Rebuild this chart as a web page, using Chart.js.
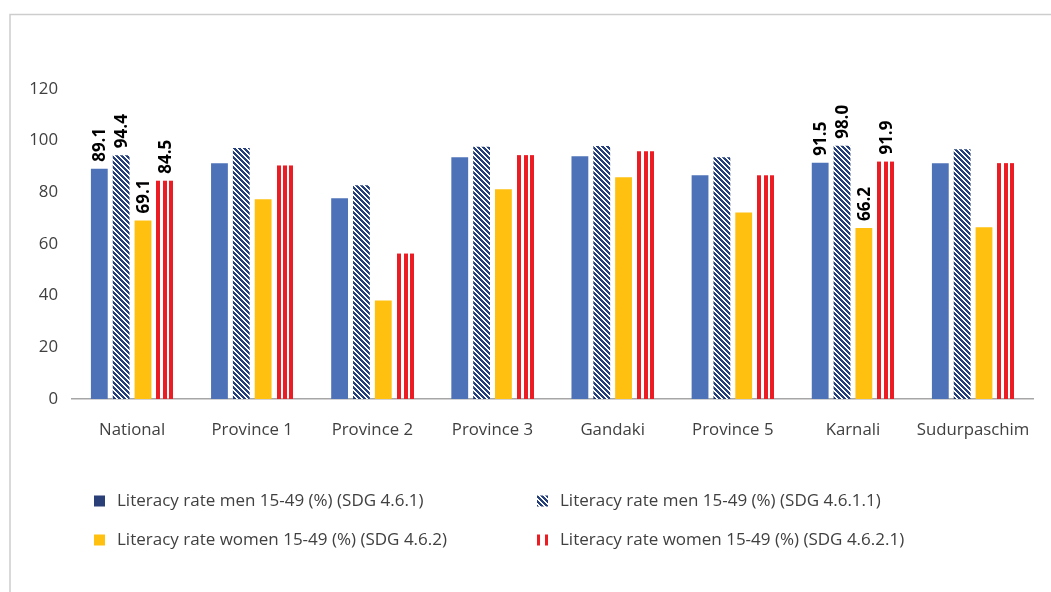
<!DOCTYPE html>
<html>
<head>
<meta charset="utf-8">
<title>Literacy rate by province</title>
<script src="https://cdn.jsdelivr.net/npm/chart.js@4/dist/chart.umd.min.js"></script>
<style>
  html, body { margin: 0; padding: 0; background: #ffffff; }
  #wrap { width: 1051px; height: 592px; position: relative; }
</style>
</head>
<body>
<div id="wrap"><canvas id="chart" width="1051" height="592"></canvas></div>
<script>
// Regions shown along the x axis
const categories = ['National', 'Province 1', 'Province 2', 'Province 3', 'Gandaki', 'Province 5', 'Karnali', 'Sudurpaschim'];

// Literacy rates (%) for each indicator
const menSdg461    = [89.1, 91.3, 77.7, 93.6, 94.0, 86.6, 91.5, 91.3];
const menSdg4611   = [94.4, 97.2, 82.7, 97.6, 97.9, 93.6, 98.0, 96.7];
const womenSdg462  = [69.1, 77.3, 38.1, 81.2, 85.8, 72.2, 66.2, 66.5];
const womenSdg4621 = [84.5, 90.4, 56.3, 94.4, 95.9, 86.6, 91.9, 91.3];

const seriesNames = [
  'Literacy rate men 15-49 (%) (SDG 4.6.1)',
  'Literacy rate men 15-49 (%) (SDG 4.6.1.1)',
  'Literacy rate women 15-49 (%) (SDG 4.6.2)',
  'Literacy rate women 15-49 (%) (SDG 4.6.2.1)'
];

// Y axis ticks
const yTicks = [0, 20, 40, 60, 80, 100, 120];

// Regions whose bars carry value labels
const labelledCategories = ['National', 'Karnali'];

const BLUE = '#4E72B8';
const NAVY = '#253F7C';
const YELLOW = '#FFC010';
const RED = '#EC1C24';
const TEXT = '#404040';
const FONT = '"Open Sans", "Noto Sans", sans-serif';

// Diagonal navy hatching on white
function makeHatch() {
  const n = 5;
  const c = document.createElement('canvas');
  c.width = n; c.height = n;
  const g = c.getContext('2d');
  g.fillStyle = '#ffffff';
  g.fillRect(0, 0, n, n);
  g.fillStyle = NAVY;
  for (let y = 0; y < n; y++) {
    for (let x = 0; x < n; x++) {
      if ((((x - y) % n) + n) % n < 3) g.fillRect(x, y, 1, 1);
    }
  }
  return g.createPattern(c, 'repeat');
}
const hatch = makeHatch();

// Vertical red stripes inside a rectangle
function drawStripes(ctx, left, top, width, height, count) {
  const l = Math.round(left), r = Math.round(left + width);
  const w = r - l;
  const stripe = Math.round(w * 0.24);
  const gap = (w - count * stripe) / (count - 1);
  ctx.fillStyle = RED;
  for (let i = 0; i < count; i++) {
    ctx.fillRect(Math.round(l + i * (stripe + gap)), top, stripe, height);
  }
}

const framePlugin = {
  id: 'frame',
  beforeDraw(chart) {
    const ctx = chart.ctx;
    ctx.save();
    ctx.strokeStyle = '#CDCDCD';
    ctx.lineWidth = 1.5;
    ctx.beginPath();
    ctx.moveTo(10, chart.height);
    ctx.lineTo(10, 14.5);
    ctx.lineTo(chart.width, 14.5);
    ctx.stroke();
    ctx.restore();
  }
};

const stripePlugin = {
  id: 'stripes',
  afterDatasetsDraw(chart) {
    const meta = chart.getDatasetMeta(3);
    const ctx = chart.ctx;
    ctx.save();
    meta.data.forEach(bar => {
      const p = bar.getProps(['x', 'y', 'base', 'width'], true);
      drawStripes(ctx, p.x - p.width / 2, p.y, p.width, p.base - p.y, 3);
    });
    ctx.restore();
  }
};

const valueLabelPlugin = {
  id: 'valueLabels',
  afterDatasetsDraw(chart) {
    const ctx = chart.ctx;
    ctx.save();
    ctx.fillStyle = '#000000';
    ctx.font = 'bold 17px ' + FONT;
    ctx.textAlign = 'left';
    ctx.textBaseline = 'middle';
    chart.data.datasets.forEach((ds, di) => {
      const meta = chart.getDatasetMeta(di);
      meta.data.forEach((bar, i) => {
        if (!labelledCategories.includes(categories[i])) return;
        const p = bar.getProps(['x', 'y'], true);
        ctx.save();
        ctx.translate(p.x, p.y - 7);
        ctx.rotate(-Math.PI / 2);
        ctx.fillText(ds.data[i].toFixed(1), 0, 1);
        ctx.restore();
      });
    });
    ctx.restore();
  }
};

const legendPlugin = {
  id: 'twoColumnLegend',
  afterDraw(chart) {
    const ctx = chart.ctx;
    const cols = [94, 537];
    const rows = [501, 540];
    const box = 11;
    ctx.save();
    ctx.font = '17px ' + FONT;
    ctx.textBaseline = 'middle';
    ctx.textAlign = 'left';
    seriesNames.forEach((name, i) => {
      const col = i % 2, row = Math.floor(i / 2);
      const x = cols[col], y = rows[row];
      const top = y - box / 2;
      if (i === 0) { ctx.fillStyle = '#2A3F78'; ctx.fillRect(x, top, box, box); }
      if (i === 1) { ctx.fillStyle = hatch; ctx.fillRect(x, top, box, box); }
      if (i === 2) { ctx.fillStyle = YELLOW; ctx.fillRect(x, top, box, box); }
      if (i === 3) { drawStripes(ctx, x, top, box, box, 2); }
      ctx.fillStyle = TEXT;
      ctx.fillText(name, x + 23, y);
    });
    ctx.restore();
  }
};

const barOpts = { categoryPercentage: 0.727, barPercentage: 0.77, borderWidth: 0 };

new Chart(document.getElementById('chart'), {
  type: 'bar',
  data: {
    labels: categories,
    datasets: [
      Object.assign({ label: seriesNames[0], data: menSdg461, backgroundColor: BLUE }, barOpts),
      Object.assign({ label: seriesNames[1], data: menSdg4611, backgroundColor: hatch }, barOpts),
      Object.assign({ label: seriesNames[2], data: womenSdg462, backgroundColor: YELLOW }, barOpts),
      Object.assign({ label: seriesNames[3], data: womenSdg4621, backgroundColor: 'rgba(255,255,255,0)' }, barOpts)
    ]
  },
  options: {
    responsive: false,
    animation: false,
    devicePixelRatio: 1,
    layout: { padding: { top: 89, left: 0, right: 10, bottom: 143 } },
    plugins: {
      legend: { display: false },
      tooltip: { enabled: false }
    },
    scales: {
      x: {
        grid: { display: false, drawTicks: false },
        border: { display: true, color: '#A6A6A6', width: 1.5 },
        ticks: { color: TEXT, font: { family: FONT, size: 16.8 }, padding: 21, maxRotation: 0, autoSkip: false },
        afterFit(scale) { scale.height = 50; }
      },
      y: {
        min: 0,
        max: 120,
        grid: { display: false, drawTicks: false },
        border: { display: false },
        afterBuildTicks(scale) { scale.ticks = yTicks.map(v => ({ value: v })); },
        ticks: { color: TEXT, font: { family: FONT, size: 16.8 }, padding: 14 },
        afterFit(scale) { scale.width = 72; }
      }
    }
  },
  plugins: [framePlugin, stripePlugin, valueLabelPlugin, legendPlugin]
});
</script>
</body>
</html>
